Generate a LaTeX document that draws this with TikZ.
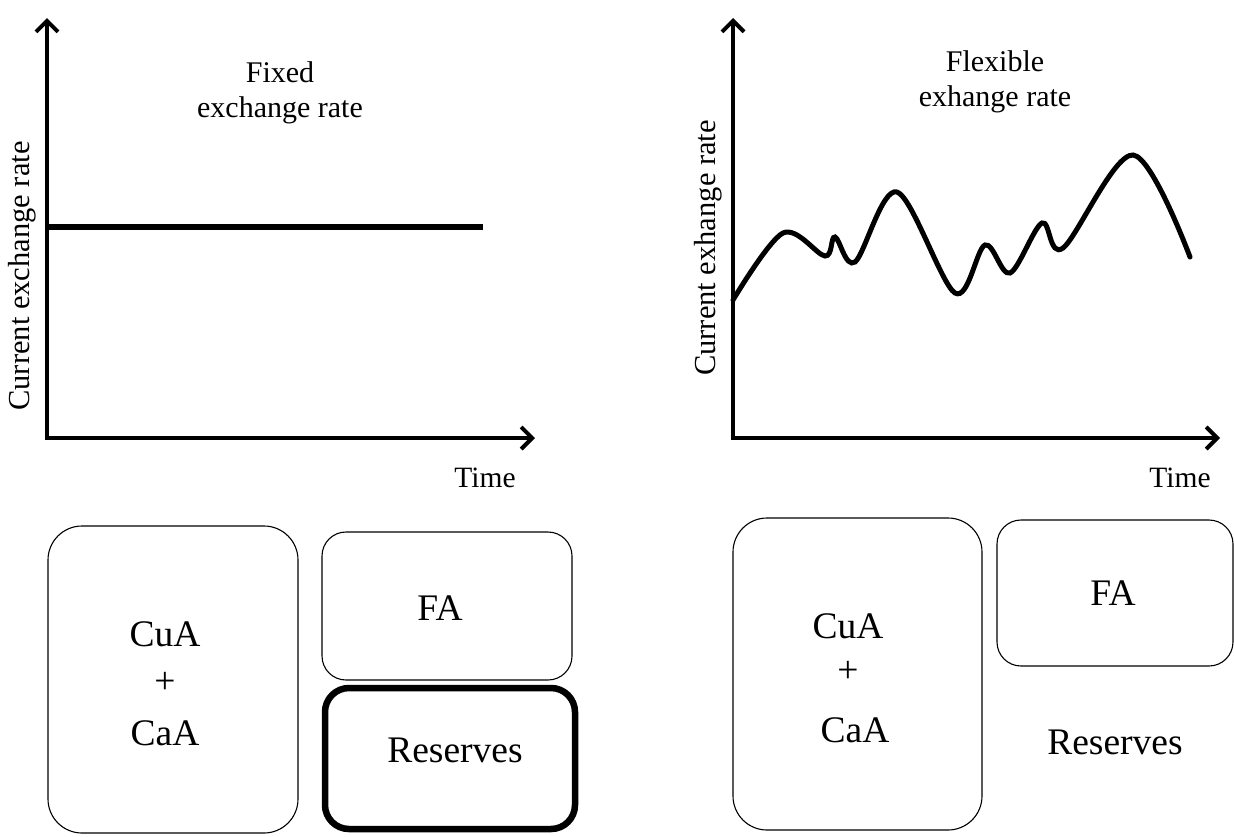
\documentclass[tikz,border=0pt]{standalone}
\usepackage{fontspec}
\setmainfont{Liberation Serif}
\usetikzlibrary{arrows.meta}
\tikzset{
  axis/.style={line width=4pt, line join=miter, {Straight Barb[length=11pt,width=22pt]}-{Straight Barb[length=11pt,width=22pt]}},
  title/.style={font=\fontsize{30}{35}\selectfont, align=center, inner sep=0pt},
  axlabel/.style={font=\fontsize{30.5}{34}\selectfont, rotate=90, inner sep=0pt},
  timelabel/.style={font=\fontsize{29.5}{34}\selectfont, inner sep=0pt},
  boxtext/.style={font=\fontsize{37.5}{44}\selectfont, inner sep=0pt},
  thinbox/.style={draw, line width=1.1pt, rounded corners=34pt},
  thickbox/.style={draw, line width=6.5pt, rounded corners=24pt},
}
\begin{document}
\begin{tikzpicture}[x=1pt,y=-1pt]
\useasboundingbox (0,0) rectangle (1234,836);
% ---------- left chart ----------
\coordinate (ly) at (47,18);
\coordinate (lo) at (47,438);
\coordinate (lx) at (535,438);
\draw[axis] (ly) -- (lo) -- (lx);
\coordinate (fa) at (47,227);
\coordinate (fb) at (483,227);
\draw[line width=6pt] (fa) -- (fb);
\node[title] (ltitle) at (280,93) {Fixed\\exchange rate};
\node[axlabel] (lylab) at (22,276) {Current exchange rate};
\node[timelabel] (ltime) at (485,478) {Time};
% ---------- right chart ----------
\coordinate (ry) at (733,18);
\coordinate (ro) at (733,438);
\coordinate (rx) at (1220,438);
\draw[axis] (ry) -- (ro) -- (rx);
\node[title] (rtitle) at (995,82) {Flexible\\exhange rate};
\node[axlabel] (rylab) at (708,248) {Current exhange rate};
\node[timelabel] (rtime) at (1180,478) {Time};
\draw[line width=5pt, line cap=round] plot[smooth, tension=0.55] coordinates {
  (733,300) (783,233) (825,256) (835,237) (855,262) (897,192) (955,293)
  (985,245) (1010,273) (1042,223) (1063,248) (1133,155) (1190,257)};
% ---------- left boxes ----------
\node[thinbox, minimum width=250pt, minimum height=307pt] (lcb) at (173,679.5) {};
\node[boxtext] (lcua) at (165,634) {CuA};
\node[boxtext] (lplus) at (165,683) {+};
\node[boxtext] (lcaa) at (165,733) {CaA};
\node[thinbox, rounded corners=24pt, minimum width=250pt, minimum height=148pt] (lfa) at (447,606) {};
\node[boxtext] (lfat) at (440,608) {FA};
\node[thickbox, minimum width=250pt, minimum height=141pt] (lres) at (450,758.5) {};
\node[boxtext] (lrest) at (455,750) {Reserves};
% ---------- right boxes ----------
\node[thinbox, minimum width=249pt, minimum height=312pt] (rcb) at (857.5,674) {};
\node[boxtext] (rcua) at (848,626) {CuA};
\node[boxtext] (rplus) at (848,672) {+};
\node[boxtext] (rcaa) at (855,730) {CaA};
\node[thinbox, rounded corners=24pt, minimum width=236pt, minimum height=146pt] (rfa) at (1115,593) {};
\node[boxtext] (rfat) at (1113,593) {FA};
\node[boxtext] (rrest) at (1115,742) {Reserves};
\end{tikzpicture}
\end{document}
